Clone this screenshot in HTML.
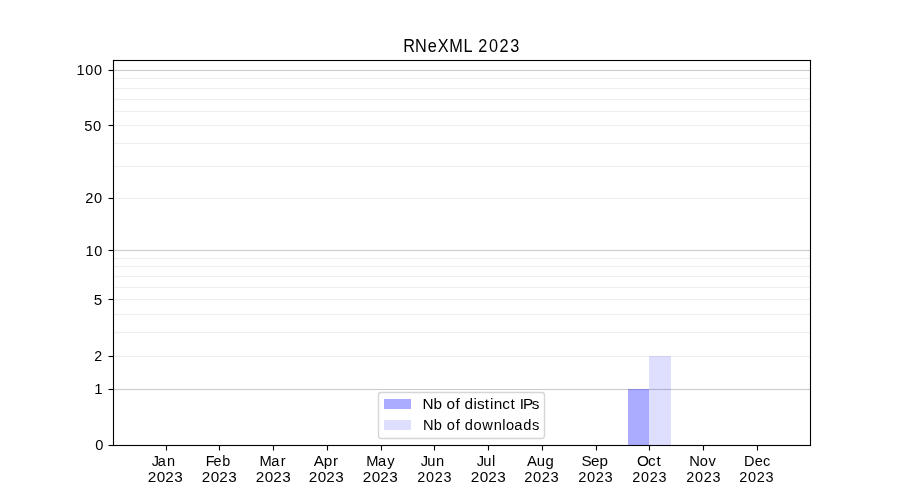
<!DOCTYPE html>
<html lang="en">
<head>
<meta charset="utf-8">
<title>RNeXML 2023</title>
<style>
html,body{margin:0;padding:0;background:#ffffff;}
body{width:900px;height:500px;overflow:hidden;}
svg{display:block;will-change:transform;}
text{font-family:"Liberation Sans",sans-serif;fill:#000000;white-space:pre;}
</style>
</head>
<body>
<svg width="900" height="500" viewBox="0 0 900 500">
<rect x="0" y="0" width="900" height="500" fill="#ffffff"/>
<!-- grid lines -->
<g fill="#cccccc">
<rect x="113" y="69.945" width="697.5" height="1.11"/>
<rect x="113" y="249.945" width="697.5" height="1.11"/>
<rect x="113" y="388.945" width="697.5" height="1.11"/>
</g>
<g fill="#eeeeee">
<rect x="113" y="77.945" width="697.5" height="1.11"/>
<rect x="113" y="87.945" width="697.5" height="1.11"/>
<rect x="113" y="98.945" width="697.5" height="1.11"/>
<rect x="113" y="110.945" width="697.5" height="1.11"/>
<rect x="113" y="124.945" width="697.5" height="1.11"/>
<rect x="113" y="142.945" width="697.5" height="1.11"/>
<rect x="113" y="165.945" width="697.5" height="1.11"/>
<rect x="113" y="197.945" width="697.5" height="1.11"/>
<rect x="113" y="257.945" width="697.5" height="1.11"/>
<rect x="113" y="265.945" width="697.5" height="1.11"/>
<rect x="113" y="275.945" width="697.5" height="1.11"/>
<rect x="113" y="286.945" width="697.5" height="1.11"/>
<rect x="113" y="298.945" width="697.5" height="1.11"/>
<rect x="113" y="313.945" width="697.5" height="1.11"/>
<rect x="113" y="331.945" width="697.5" height="1.11"/>
<rect x="113" y="355.945" width="697.5" height="1.11"/>
</g>
<!-- bars -->
<rect x="628" y="389" width="21" height="56" fill="#0000ff" fill-opacity="0.33"/>
<rect x="649" y="356" width="22" height="89" fill="#0000ff" fill-opacity="0.13"/>
<!-- ticks -->
<g fill="#000000">
<rect x="108.5" y="69.945" width="5" height="1.11"/>
<rect x="108.5" y="124.945" width="5" height="1.11"/>
<rect x="108.5" y="197.945" width="5" height="1.11"/>
<rect x="108.5" y="249.945" width="5" height="1.11"/>
<rect x="108.5" y="298.945" width="5" height="1.11"/>
<rect x="108.5" y="355.945" width="5" height="1.11"/>
<rect x="108.5" y="388.945" width="5" height="1.11"/>
<rect x="108.5" y="444.945" width="5" height="1.11"/>
<rect x="165.945" y="445.5" width="1.11" height="5"/>
<rect x="218.945" y="445.5" width="1.11" height="5"/>
<rect x="272.945" y="445.5" width="1.11" height="5"/>
<rect x="326.945" y="445.5" width="1.11" height="5"/>
<rect x="380.945" y="445.5" width="1.11" height="5"/>
<rect x="433.945" y="445.5" width="1.11" height="5"/>
<rect x="487.945" y="445.5" width="1.11" height="5"/>
<rect x="541.945" y="445.5" width="1.11" height="5"/>
<rect x="595.945" y="445.5" width="1.11" height="5"/>
<rect x="648.945" y="445.5" width="1.11" height="5"/>
<rect x="702.945" y="445.5" width="1.11" height="5"/>
<rect x="756.945" y="445.5" width="1.11" height="5"/>
</g>
<!-- axes frame -->
<g fill="#000000">
<rect x="112.945" y="59.945" width="698.11" height="1.11"/>
<rect x="112.945" y="444.945" width="698.11" height="1.11"/>
<rect x="112.945" y="59.945" width="1.11" height="386.11"/>
<rect x="809.945" y="59.945" width="1.11" height="386.11"/>
</g>
<!-- legend -->
<path d="M381.278 392.5L541.722 392.5Q544.5 392.5 544.5 395.278L544.5 435.722Q544.5 438.5 541.722 438.5L381.278 438.5Q378.5 438.5 378.5 435.722L378.5 395.278Q378.5 392.5 381.278 392.5Z" fill="#ffffff" fill-opacity="0.8" stroke="#cccccc" stroke-opacity="0.8" stroke-width="1.389" stroke-linejoin="miter"/>
<rect x="384" y="399" width="27" height="10" fill="#0000ff" fill-opacity="0.33"/>
<rect x="384" y="420" width="27" height="10" fill="#0000ff" fill-opacity="0.13"/>
<!-- text -->
<text id="title" transform="scale(0.9322,1)" x="432.58 445.20 458.88 469.50 481.85 497.34 506.79 513.06 524.63 535.72 547.33" y="51.75" font-size="17.48">RNeXML 2023</text>
<text id="y100" transform="scale(1.0546,1)" x="72.55 80.91 89.21" y="75.50" font-size="13.73">100</text>
<text id="y50" transform="scale(1.0392,1)" x="81.17 89.61" y="130.75" font-size="14.22">50</text>
<text id="y20" transform="scale(1.0659,1)" x="79.93 88.29" y="203.50" font-size="13.73">20</text>
<text id="y10" transform="scale(1.0271,1)" x="83.24 91.83" y="255.75" font-size="14.15">10</text>
<text id="y5" transform="scale(1.1091,1)" x="84.51" y="304.75" font-size="13.73">5</text>
<text id="y2" transform="scale(1.0056,1)" x="93.65" y="361.50" font-size="14.15">2</text>
<text id="y1" transform="scale(1.0554,1)" x="89.42" y="394.50" font-size="14.15">1</text>
<text id="y0" transform="scale(1.0592,1)" x="90.01" y="450.50" font-size="13.87">0</text>
<text id="leg1" transform="scale(1.0438,1)" x="404.76 415.25 423.54 427.69 436.38 440.67 444.92 453.56 456.91 464.43 469.36 473.03 481.06 489.10 493.84 497.93 501.18 509.48" y="408.75" font-size="14.70">Nb of distinct IPs</text>
<text id="leg2" transform="scale(1.0139,1)" x="417.15 427.90 436.25 440.70 449.57 453.88 458.43 467.08 475.69 486.89 495.45 499.14 507.09 516.13 524.64" y="429.75" font-size="14.48">Nb of downloads</text>
<text id="m_Jan" transform="scale(0.9878,1)" x="153.56 159.59 168.97" y="465.75" font-size="14.70">Jan</text>
<text id="yr_Jan" transform="scale(1.0929,1)" x="135.20 143.35 151.21 159.43" y="481.75" font-size="14.01">2023</text>
<text id="m_Feb" transform="scale(0.9750,1)" x="210.91 219.10 228.02" y="465.75" font-size="14.77">Feb</text>
<text id="yr_Feb" transform="scale(1.0929,1)" x="184.61 192.76 200.62 208.84" y="481.75" font-size="14.01">2023</text>
<text id="m_Mar" transform="scale(0.9992,1)" x="259.65 271.48 281.10" y="465.75" font-size="14.70">Mar</text>
<text id="yr_Mar" transform="scale(1.0929,1)" x="234.02 242.17 250.04 258.25" y="481.75" font-size="14.01">2023</text>
<text id="m_Apr" transform="scale(1.0423,1)" x="300.98 310.66 319.50" y="465.75" font-size="14.70">Apr</text>
<text id="yr_Apr" transform="scale(1.0929,1)" x="282.52 290.67 298.53 306.75" y="481.75" font-size="14.01">2023</text>
<text id="m_May" transform="scale(1.0118,1)" x="361.88 373.56 382.84" y="465.75" font-size="14.55">May</text>
<text id="yr_May" transform="scale(1.0929,1)" x="331.93 340.08 347.94 356.16" y="481.75" font-size="14.01">2023</text>
<text id="m_Jun" transform="scale(0.9974,1)" x="421.77 428.27 437.14" y="465.75" font-size="14.70">Jun</text>
<text id="yr_Jun" transform="scale(1.0496,1)" x="397.42 405.91 414.10 422.65" y="481.75" font-size="13.73">2023</text>
<text id="m_Jul" transform="scale(0.9884,1)" x="482.24 488.80 497.68" y="465.75" font-size="14.85">Jul</text>
<text id="yr_Jul" transform="scale(1.0929,1)" x="430.75 438.90 446.77 454.98" y="481.75" font-size="14.01">2023</text>
<text id="m_Aug" transform="scale(1.0145,1)" x="519.35 529.11 537.74" y="465.75" font-size="14.70">Aug</text>
<text id="yr_Aug" transform="scale(1.0470,1)" x="500.63 509.13 517.34 525.92" y="481.75" font-size="14.08">2023</text>
<text id="m_Sep" transform="scale(1.0051,1)" x="578.52 587.92 596.56" y="465.75" font-size="15.14">Sep</text>
<text id="yr_Sep" transform="scale(1.0417,1)" x="555.01 563.56 571.81 580.43" y="481.75" font-size="14.08">2023</text>
<text id="m_Oct" transform="scale(1.0918,1)" x="583.36 593.61 601.30" y="465.75" font-size="14.04">Oct</text>
<text id="yr_Oct" transform="scale(1.0496,1)" x="602.27 610.75 618.94 627.50" y="481.75" font-size="13.73">2023</text>
<text id="m_Nov" transform="scale(1.0043,1)" x="686.24 696.82 705.59" y="465.75" font-size="14.63">Nov</text>
<text id="yr_Nov" transform="scale(1.0496,1)" x="653.72 662.20 670.39 678.94" y="481.75" font-size="13.73">2023</text>
<text id="m_Dec" transform="scale(0.9894,1)" x="751.93 762.93 771.26" y="465.75" font-size="14.70">Dec</text>
<text id="yr_Dec" transform="scale(1.0575,1)" x="698.94 707.36 715.49 723.98" y="481.75" font-size="13.73">2023</text>
</svg>
</body>
</html>
